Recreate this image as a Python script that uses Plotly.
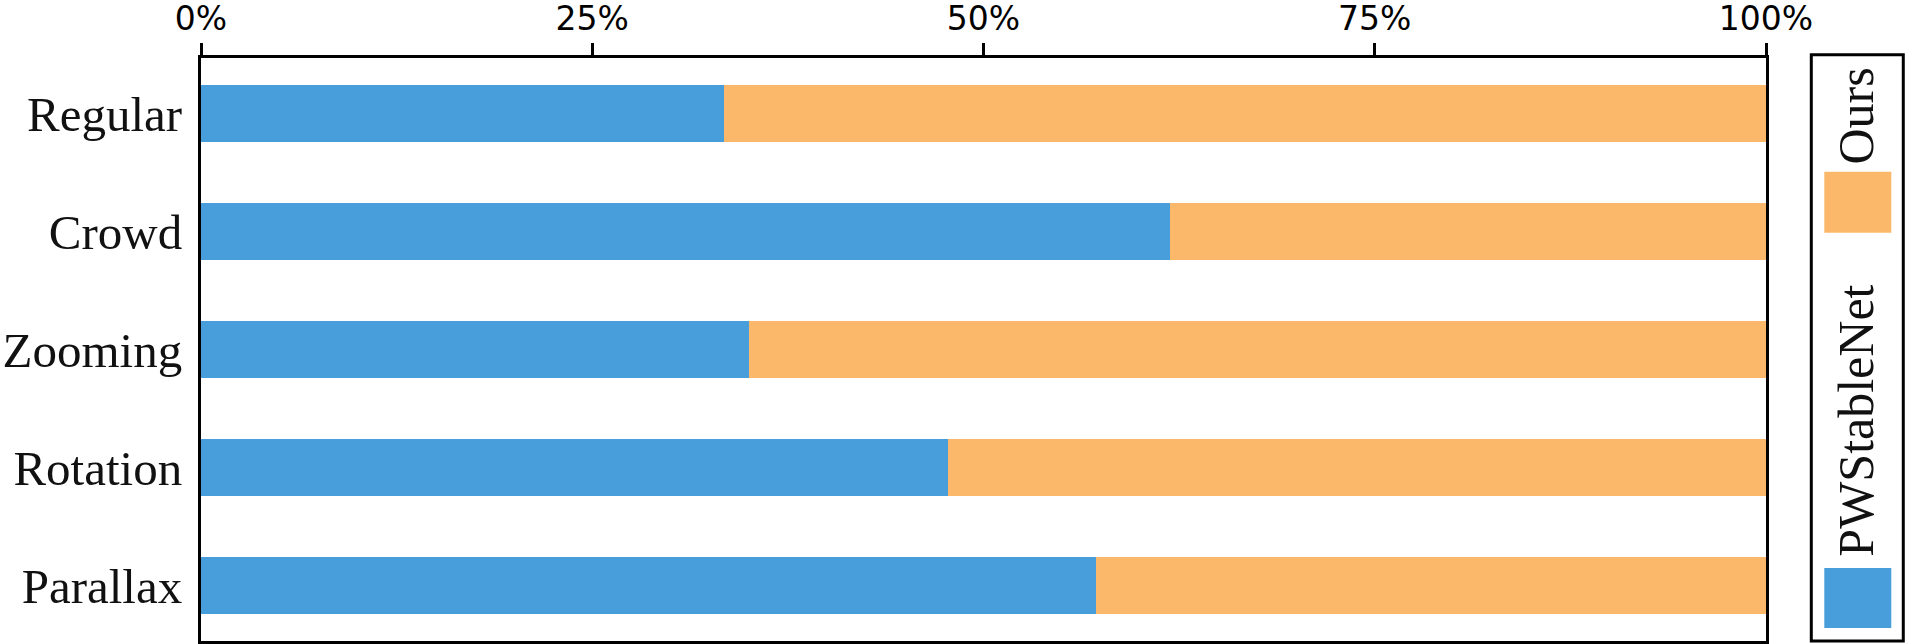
import plotly.graph_objects as go

categories = ["Regular", "Crowd", "Zooming", "Rotation", "Parallax"]
pwstablenet = [33.4, 61.9, 35.0, 47.7, 57.2]
ours = [66.6, 38.1, 65.0, 52.3, 42.8]
tick_vals = [0, 25, 50, 75, 100]
tick_text = ["0%", "25%", "50%", "75%", "100%"]

BLUE = "#489EDB"
ORANGE = "#FCB86A"
W, H = 1905, 644
L, R, T, B = 200.5, 1765.7, 58.3, 641.0

fig = go.Figure()
fig.add_trace(go.Bar(y=categories, x=pwstablenet, orientation="h", name="PWStableNet",
                     marker=dict(color=BLUE, line=dict(width=0)), width=0.49))
fig.add_trace(go.Bar(y=categories, x=ours, orientation="h", name="Ours",
                     marker=dict(color=ORANGE, line=dict(width=0)), width=0.49))


def px(x):
    return (x - L) / (R - L)


def py(y):
    return (B - y) / (B - T)


shapes = [
    dict(type="rect", xref="paper", yref="paper", x0=px(1811), x1=px(1903), y0=py(641), y1=py(55),
         line=dict(color="black", width=3), fillcolor="white", layer="above"),
    dict(type="rect", xref="paper", yref="paper", x0=px(1824), x1=px(1891), y0=py(233), y1=py(172),
         line=dict(width=0), fillcolor=ORANGE),
    dict(type="rect", xref="paper", yref="paper", x0=px(1824), x1=px(1891), y0=py(628), y1=py(568),
         line=dict(width=0), fillcolor=BLUE),
]

annotations = [
    dict(text="Ours", xref="paper", yref="paper", x=px(1856), y=py(116.5), showarrow=False,
         textangle=-90, font=dict(family="Liberation Serif", size=50, color="#111"),
         xanchor="center", yanchor="middle"),
    dict(text="PWStableNet", xref="paper", yref="paper", x=px(1856), y=py(420.5), showarrow=False,
         textangle=-90, font=dict(family="Liberation Serif", size=50, color="#111"),
         xanchor="center", yanchor="middle"),
]

fig.update_layout(
    width=W, height=H, barmode="stack", showlegend=False,
    plot_bgcolor="white", paper_bgcolor="white",
    margin=dict(l=L, r=W - R, t=T, b=H - B, pad=0, autoexpand=False),
    shapes=shapes, annotations=annotations,
    bargap=0,
)
fig.update_xaxes(side="top", range=[0, 100], tickvals=tick_vals, ticktext=tick_text,
                 showgrid=False, zeroline=False, showline=True, mirror=True, automargin=False,
                 linecolor="black", linewidth=3, ticks="outside", ticklen=12, tickwidth=2.5,
                 tickcolor="black", ticklabelstandoff=0,
                 tickfont=dict(family="DejaVu Sans", size=33, color="black"))
fig.update_yaxes(categoryorder="array", categoryarray=categories, range=[4.47, -0.47],
                 showgrid=False, zeroline=False, showline=True, mirror=True, automargin=False,
                 linecolor="black", linewidth=3, ticks="", ticklabelstandoff=6,
                 tickfont=dict(family="Liberation Serif", size=49, color="#111"))

fig.write_html("out.html")
